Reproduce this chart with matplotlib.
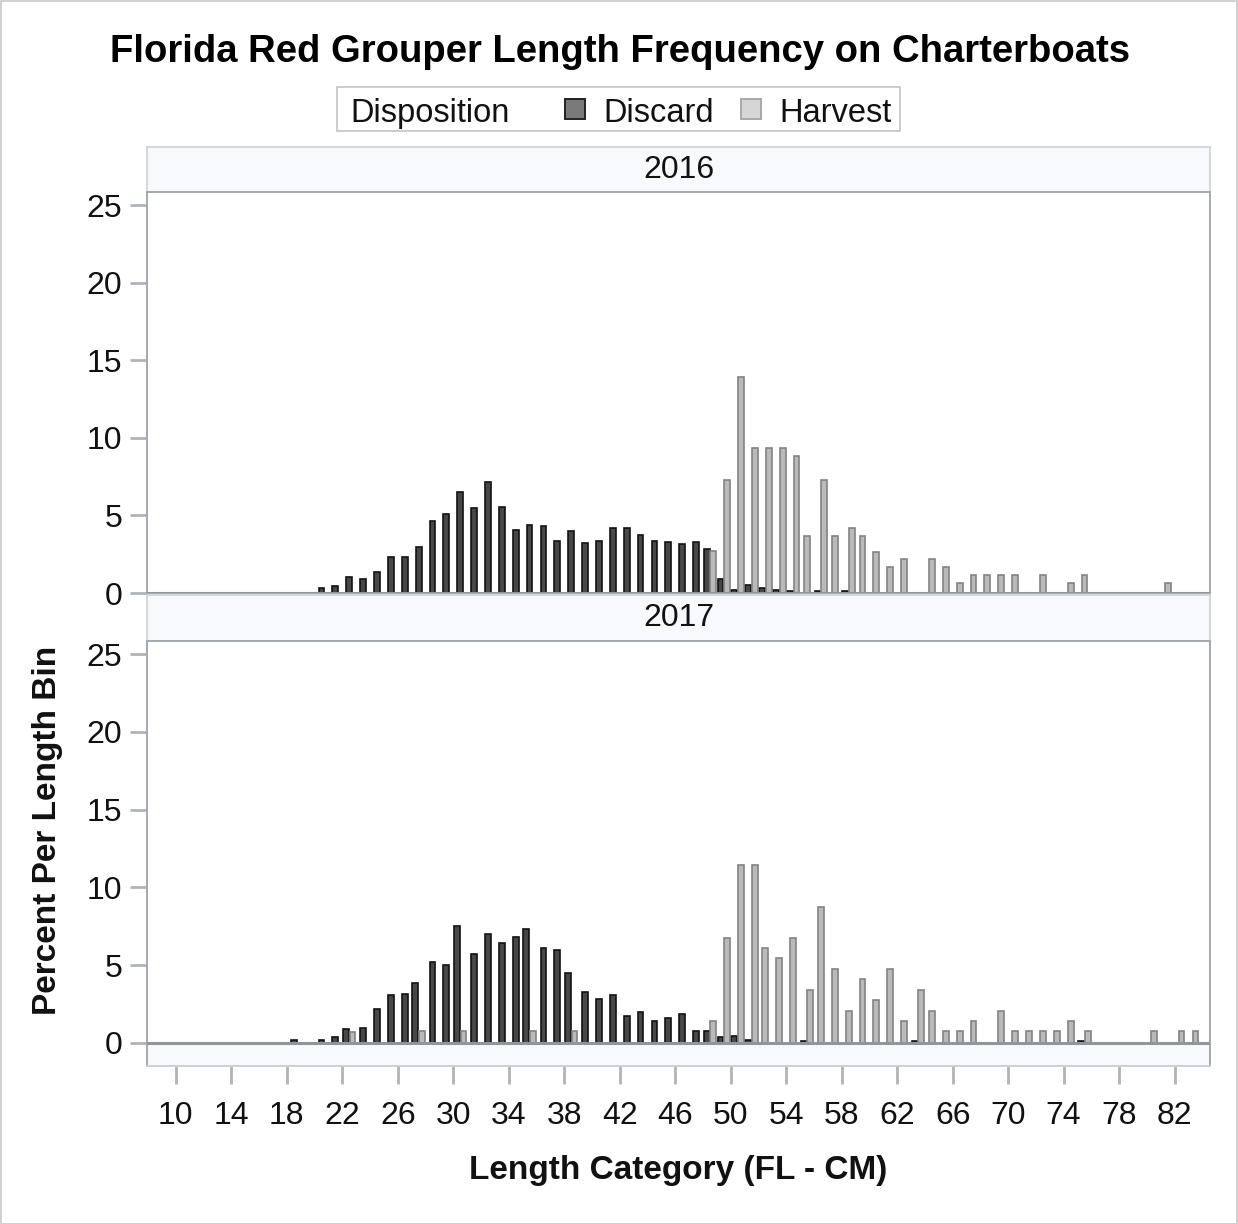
import numpy as np
import matplotlib
matplotlib.use("Agg")
import matplotlib.pyplot as plt
from matplotlib.patches import Rectangle

plt.rcParams['font.family'] = ['Liberation Sans', 'DejaVu Sans']

# ---------------- data ----------------
length_bins = [10, 11, 12, 13, 14, 15, 16, 17, 18, 19,
               20, 21, 22, 23, 24, 25, 26, 27, 28, 29,
               30, 31, 32, 33, 34, 35, 36, 37, 38, 39,
               40, 41, 42, 43, 44, 45, 46, 47, 48, 49,
               50, 51, 52, 53, 54, 55, 56, 57, 58, 59,
               60, 61, 62, 63, 64, 65, 66, 67, 68, 69,
               70, 71, 72, 73, 74, 75, 76, 77, 78, 79,
               80, 81, 82, 83, 84]

discard_2016 = [0, 0, 0, 0, 0, 0, 0, 0, 0, 0,
                0.31, 0.48, 1.04, 0.91, 1.36, 2.33, 2.33, 2.97, 4.67, 5.12,
                6.51, 5.50, 7.15, 5.57, 4.04, 4.36, 4.32, 3.33, 3.98, 3.21,
                3.33, 4.19, 4.16, 3.76, 3.33, 3.29, 3.17, 3.29, 2.86, 0.87,
                0.22, 0.53, 0.33, 0.18, 0.15, 0, 0.10, 0, 0.10, 0,
                0, 0, 0, 0, 0, 0, 0, 0, 0, 0,
                0, 0, 0, 0, 0, 0, 0, 0, 0, 0,
                0, 0, 0, 0, 0]

harvest_2016 = [0, 0, 0, 0, 0, 0, 0, 0, 0, 0,
                0, 0, 0, 0, 0, 0, 0, 0, 0, 0,
                0, 0, 0, 0, 0, 0, 0, 0, 0, 0,
                0, 0, 0, 0, 0, 0, 0, 0, 2.69, 7.30,
                13.95, 9.34, 9.34, 9.34, 8.81, 3.66, 7.30, 3.66, 4.19, 3.66,
                2.65, 1.66, 2.16, 0, 2.16, 1.66, 0.66, 1.13, 1.13, 1.13,
                1.13, 0, 1.13, 0, 0.66, 1.13, 0, 0, 0, 0,
                0, 0.66, 0, 0, 0]

discard_2017 = [0, 0, 0, 0, 0, 0, 0, 0, 0.17, 0,
                0.17, 0.41, 0.88, 0.98, 2.16, 3.06, 3.17, 3.83, 5.23, 4.99,
                7.50, 5.70, 7.00, 6.45, 6.83, 7.33, 6.08, 5.98, 4.50, 3.26,
                2.83, 3.06, 1.74, 1.99, 1.43, 1.63, 1.84, 0.79, 0.77, 0.39,
                0.45, 0.19, 0, 0, 0, 0.15, 0, 0, 0, 0,
                0, 0, 0, 0.15, 0, 0, 0, 0, 0, 0,
                0, 0, 0, 0, 0, 0.15, 0, 0, 0, 0,
                0, 0, 0, 0, 0]

harvest_2017 = [0, 0, 0, 0, 0, 0, 0, 0, 0, 0,
                0, 0, 0.73, 0, 0, 0, 0, 0.79, 0, 0,
                0.79, 0, 0, 0, 0, 0.75, 0, 0, 0.79, 0,
                0, 0, 0, 0, 0, 0, 0, 0, 1.43, 6.73,
                11.44, 11.44, 6.08, 5.44, 6.73, 3.41, 8.76, 4.76, 2.08, 4.09,
                2.76, 4.76, 1.44, 3.41, 2.08, 0.79, 0.79, 1.44, 0, 2.08,
                0.79, 0.79, 0.79, 0.79, 1.44, 0.79, 0, 0, 0, 0,
                0.79, 0, 0.79, 0.79, 0]

years = ["2016", "2017"]
x_tick_labels = [10, 14, 18, 22, 26, 30, 34, 38, 42, 46, 50, 54, 58, 62, 66, 70, 74, 78, 82]
y_ticks = [0, 5, 10, 15, 20, 25]

# ---------------- layout helpers ----------------
W, H = 1238, 1224
fig = plt.figure(figsize=(W / 100, H / 100), dpi=100)
fig.patch.set_facecolor('white')


def rect(x0, y0, x1, y1):
    """pixel box (top-left origin) -> figure fraction rect"""
    return [x0 / W, 1 - y1 / H, (x1 - x0) / W, (y1 - y0) / H]


def fx(x):
    return x / W


def fy(y):
    return 1 - y / H


# outer border
fig.add_artist(Rectangle((0.5 / W, 0.5 / H), 1 - 1.5 / W, 1 - 1.5 / H, transform=fig.transFigure,
                         fill=False, edgecolor='#c8c8c8', linewidth=1.2))

# title
fig.text(fx(620), fy(52), "Florida Red Grouper Length Frequency on Charterboats",
         ha='center', va='center', fontsize=27.5, fontweight='bold', color='black')

# legend
fig.add_artist(Rectangle((fx(337), fy(131)), (900 - 337) / W, (131 - 87) / H, transform=fig.transFigure,
                         facecolor='white', edgecolor='#c4c4c4', linewidth=1.2))
fig.text(fx(350), fy(110), "Disposition", ha='left', va='center_baseline', fontsize=23.5, color='#111111')
fig.add_artist(Rectangle((fx(565), fy(119)), 20 / W, 20 / H, transform=fig.transFigure,
                         facecolor='#7a7a7a', edgecolor='#222222', linewidth=1.4))
fig.text(fx(603), fy(110), "Discard", ha='left', va='center_baseline', fontsize=23.5, color='#111111')
fig.add_artist(Rectangle((fx(741), fy(119)), 20 / W, 20 / H, transform=fig.transFigure,
                         facecolor='#d6d6d6', edgecolor='#a8a8a8', linewidth=1.4))
fig.text(fx(779), fy(110), "Harvest", ha='left', va='center_baseline', fontsize=23.5, color='#111111')

HEADER_BG = '#f8f9fd'
FRAME = '#a4a9ad'
TICKC = '#b0b4b8'


def header(y0, y1, label):
    hax = fig.add_axes(rect(147, y0, 1210, y1))
    hax.set_facecolor(HEADER_BG)
    hax.set_xticks([])
    hax.set_yticks([])
    for s in hax.spines.values():
        s.set_color('#cdd1d5')
        s.set_linewidth(1.2)
    hax.text(0.5, 0.5, label, transform=hax.transAxes, ha='center', va='center',
             fontsize=23, color='#111111')


cats = np.array(length_bins, dtype=float)
OFF = 0.24
BW = 0.42


def draw_panel(ax, disc, harv):
    disc = np.array(disc)
    harv = np.array(harv)
    both = (disc > 0) & (harv > 0)
    xd = cats + 0.5 - np.where(both, OFF, 0.0)
    xh = cats + 0.5 + np.where(both, OFF, 0.0)
    md = disc > 0
    mh = harv > 0
    ax.bar(xd[md], disc[md], width=BW, color='#474747', edgecolor='#121212', linewidth=1.2, zorder=3)
    ax.bar(xh[mh], harv[mh], width=BW, color='#bababa', edgecolor='#838383', linewidth=1.2, zorder=4)
    ax.axhline(0, color='#8f979c', linewidth=2.2, zorder=5)
    ax.set_xlim(7.92, 84.55)
    ax.set_yticks(y_ticks)
    ax.set_yticklabels([str(v) for v in y_ticks], fontsize=23, color='#111111')
    ax.tick_params(axis='y', direction='out', length=12, width=2, color=TICKC, pad=6)
    for s in ax.spines.values():
        s.set_color(FRAME)
        s.set_linewidth(1.4)


# top panel
header(147, 192, years[0])
ax1 = fig.add_axes(rect(147, 192, 1210, 593))
ax1.set_ylim(0, 25.84)
draw_panel(ax1, discard_2016, harvest_2016)
ax1.set_xticks([])

# bottom panel
header(595, 641, years[1])
ax2 = fig.add_axes(rect(147, 641, 1210, 1066))
ax2.set_ylim(-1.48, 25.84)
ax2.axhspan(-1.48, 0, color=HEADER_BG, zorder=0)
draw_panel(ax2, discard_2017, harvest_2017)
ax2.set_xticks(x_tick_labels)
ax2.set_xticklabels([str(v) for v in x_tick_labels], fontsize=23, color='#111111')
ax2.tick_params(axis='x', direction='out', length=13, width=2, color=TICKC, pad=12)
ax2.spines['bottom'].set_color('#cdd1d5')

# axis labels
fig.text(fx(678), fy(1170), "Length Category (FL - CM)", ha='center', va='center',
         fontsize=24, fontweight='bold', color='#111111')
fig.text(fx(48), fy(830), "Percent Per Length Bin", ha='center', va='center', rotation=90,
         fontsize=24, fontweight='bold', color='#111111')

fig.savefig("out.png", dpi=100, facecolor='white')
